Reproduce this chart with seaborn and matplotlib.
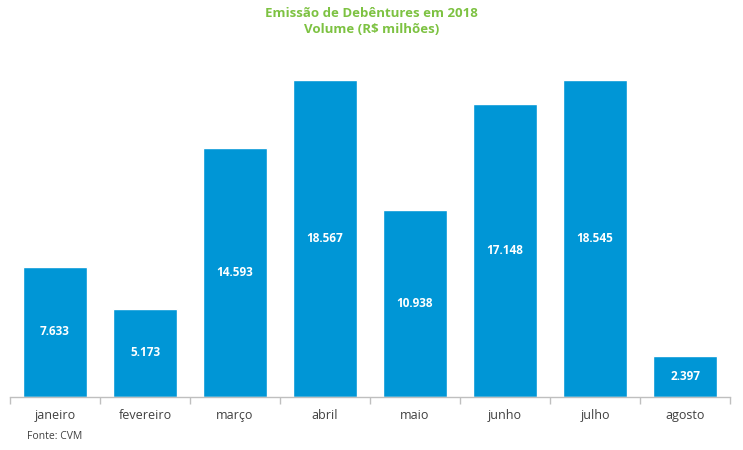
import numpy as np
import pandas as pd
import seaborn as sns
from matplotlib import pyplot as plt

# dados
meses = ['janeiro', 'fevereiro', 'março', 'abril', 'maio', 'junho', 'julho', 'agosto']
volume = [7633, 5173, 14593, 18567, 10938, 17148, 18545, 2397]

sns.set_style('white')
plt.rcParams['font.family'] = ['Open Sans', 'DejaVu Sans']

df = pd.DataFrame({'mes': meses, 'volume': volume})

fig = plt.figure(figsize=(7.43, 4.5), dpi=100)
ax = fig.add_axes([0.01346, 0.1178, 0.9691, 0.7589])

sns.barplot(data=df, x='mes', y='volume', color='#0096D6', saturation=1,
            width=0.72, ax=ax)

for p, v in zip(ax.patches, volume):
    ax.text(p.get_x() + p.get_width() / 2, v / 2, f'{v:,}'.replace(',', '.'),
            ha='center', va='center', color='white', fontsize=8.5, fontweight='bold')

ax.set_xlim(-0.5, len(meses) - 0.5)
ax.set_ylim(0, 20000)
ax.set_xlabel('')
ax.set_ylabel('')
ax.set_yticks([])
for s in ['top', 'right', 'left']:
    ax.spines[s].set_visible(False)
ax.spines['bottom'].set_color('#BFBFBF')
ax.spines['bottom'].set_linewidth(1)

# rótulos no centro, traços nos limites das categorias
ax.tick_params(axis='x', which='major', bottom=True, length=0, pad=9,
               labelsize=9, labelcolor='#404040')
ax.set_xticks(np.arange(-0.5, len(meses), 1), minor=True)
ax.tick_params(axis='x', which='minor', bottom=True, length=5, color='#BFBFBF',
               width=1, direction='out')

fig.text(0.5, 0.985, 'Emissão de Debêntures em 2018\nVolume (R$ milhões)',
         ha='center', va='top', color='#7DC242', fontsize=9.5, fontweight='bold',
         linespacing=1.3)
fig.text(0.036, 0.018, 'Fonte: CVM', ha='left', va='bottom', fontsize=7.5, color='#404040')

fig.savefig('out.png', dpi=100)
